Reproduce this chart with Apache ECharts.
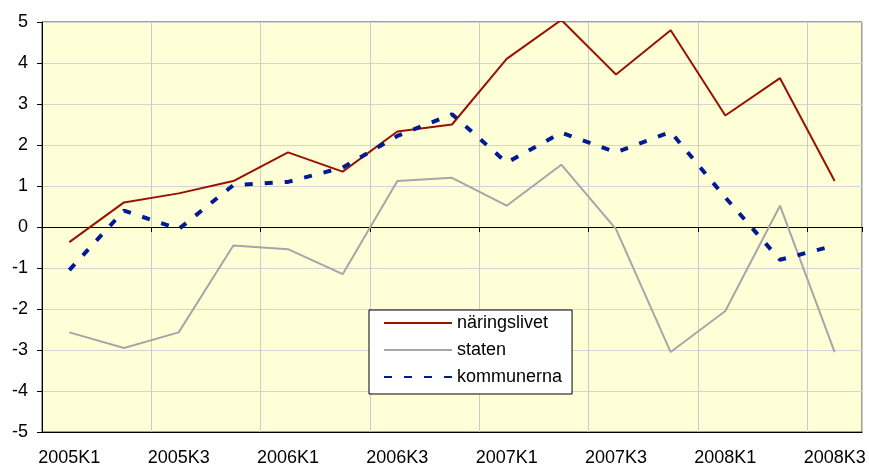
<!DOCTYPE html>
<html>
<head>
<meta charset="utf-8">
<script src="https://cdn.jsdelivr.net/npm/echarts@6/dist/echarts.min.js"></script>
<style>
  html, body { margin: 0; padding: 0; background: #fff; }
  #chart { width: 869px; height: 465px; }
</style>
</head>
<body>
<div id="chart"></div>
<script>
const quarters = [
  '2005K1', '2005K2', '2005K3', '2005K4',
  '2006K1', '2006K2', '2006K3', '2006K4',
  '2007K1', '2007K2', '2007K3', '2007K4',
  '2008K1', '2008K2', '2008K3'
]

const naringslivet = [-0.37, 0.6, 0.82, 1.12, 1.82, 1.35, 2.33, 2.5, 4.1, 5.05, 3.72, 4.8, 2.72, 3.63, 1.12]
const staten = [-2.57, -2.95, -2.57, -0.45, -0.54, -1.15, 1.12, 1.2, 0.52, 1.52, -0.05, -3.05, -2.05, 0.52, -3.05]
const kommunerna = [-1.05, 0.4, -0.05, 1.02, 1.1, 1.45, 2.22, 2.75, 1.57, 2.3, 1.82, 2.32, 0.72, -0.8, -0.45]

const FONT = 'Liberation Sans, Arial, sans-serif'

const myChart = echarts.init(document.getElementById('chart'))

const option = {
  animation: false,
  grid: {
    left: 42,
    right: 7,
    top: 22,
    bottom: 33,
    outerBoundsMode: 'none',
    containLabel: false,
    show: true,
    backgroundColor: '#ffffd7',
    borderColor: '#404040',
    borderWidth: 1
  },
  legend: {
    orient: 'vertical',
    left: 369,
    top: 310,
    backgroundColor: '#ffffff',
    borderColor: '#000000',
    borderWidth: 1,
    borderRadius: 0,
    padding: [4, 10, 8, 14],
    itemWidth: 68,
    itemHeight: 18,
    itemGap: 9,
    itemStyle: { opacity: 0 },
    textStyle: { fontFamily: FONT, fontSize: 18, color: '#000' },
    data: ['näringslivet', 'staten', 'kommunerna']
  },
  xAxis: [
    {
      type: 'category',
      data: quarters,
      boundaryGap: true,
      axisLine: { onZero: false, lineStyle: { color: '#000', width: 1 } },
      axisTick: { show: false },
      axisLabel: {
        interval: 1,
        margin: 17,
        fontFamily: FONT,
        fontSize: 18,
        color: '#000'
      },
      splitLine: {
        show: true,
        interval: 1,
        lineStyle: { color: '#cccccc', width: 1 }
      }
    },
    {
      // axis line drawn through zero, as in the original
      type: 'category',
      data: quarters,
      position: 'bottom',
      boundaryGap: true,
      axisLine: { onZero: true, lineStyle: { color: '#000', width: 1 } },
      axisTick: { show: true, interval: 1, length: 5, lineStyle: { color: '#000' } },
      axisLabel: { show: false },
      splitLine: { show: false }
    }
  ],
  yAxis: {
    type: 'value',
    min: -5,
    max: 5,
    interval: 1,
    axisLine: { show: true, lineStyle: { color: '#000', width: 1 } },
    axisTick: { show: true, length: 5, lineStyle: { color: '#000' } },
    axisLabel: {
      margin: 14,
      fontFamily: FONT,
      fontSize: 18,
      color: '#000'
    },
    splitLine: { show: true, lineStyle: { color: '#d4d4d4', width: 1 } }
  },
  series: [
    {
      name: 'näringslivet',
      type: 'line',
      data: naringslivet,
      symbol: 'none',
      color: '#991100',
      lineStyle: { color: '#991100', width: 2 }
    },
    {
      name: 'staten',
      type: 'line',
      data: staten,
      symbol: 'none',
      color: '#a6a6a6',
      lineStyle: { color: '#a6a6a6', width: 2 }
    },
    {
      name: 'kommunerna',
      type: 'line',
      data: kommunerna,
      symbol: 'none',
      color: '#001a94',
      lineStyle: { color: '#001a94', width: 4, type: [8, 12] }
    }
  ]
}

myChart.setOption(option)
</script>
</body>
</html>
